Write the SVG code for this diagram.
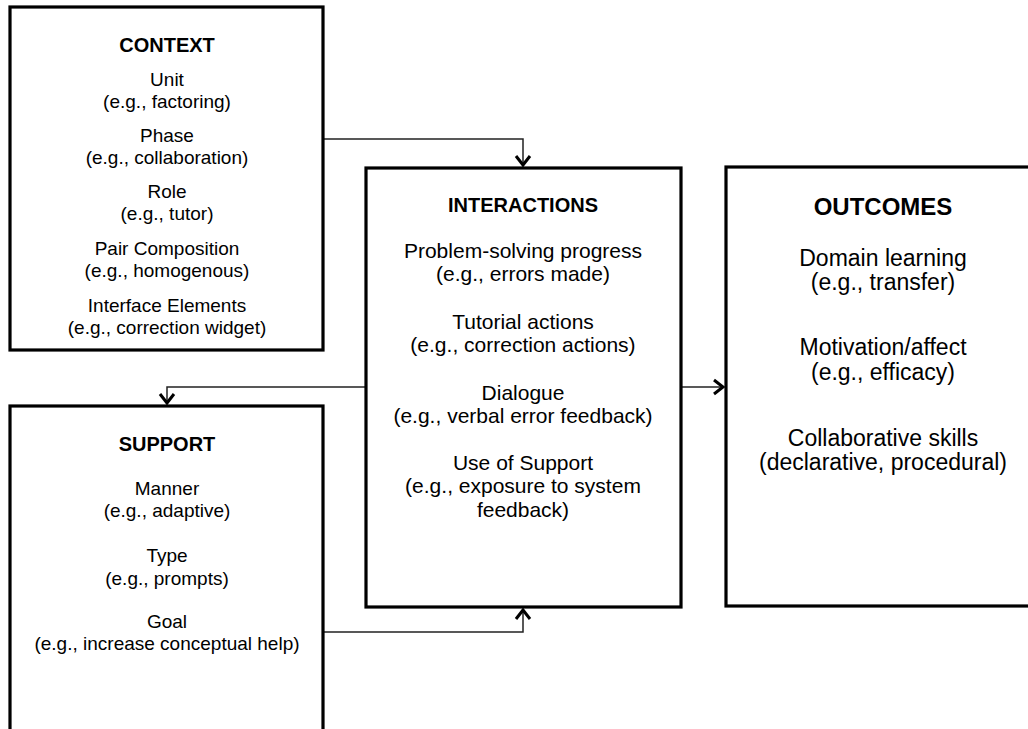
<svg xmlns="http://www.w3.org/2000/svg" width="1028" height="729" viewBox="0 0 1028 729">
  <style>
    .box { fill: #ffffff; stroke: #000000; stroke-width: 3.2; }
    .conn { fill: none; stroke: #222222; stroke-width: 1.5; }
    text { font-family: "Liberation Sans", Arial, sans-serif; fill: #000000; text-anchor: middle; }
    .title { font-weight: bold; font-size: 20px; }
    .title-lg { font-weight: bold; font-size: 24px; }
    .item { font-size: 19px; }
    .item-md { font-size: 21px; }
    .item-lg { font-size: 23px; }
  </style>
  <defs>
    <marker id="arrow" viewBox="-2 -2 16 18" refX="10" refY="7" markerWidth="16" markerHeight="18" markerUnits="userSpaceOnUse" orient="auto" overflow="visible">
      <path d="M0,0 L9,7 L0,14" fill="none" stroke="#000000" stroke-width="3" stroke-linejoin="miter"/>
    </marker>
  </defs>
  <rect width="1028" height="729" fill="#ffffff"/>

  <!-- connectors -->
  <g id="connectors">
    <path class="conn" d="M323,139 H523 V166" marker-end="url(#arrow)"/>
    <path class="conn" d="M366,387 H167 V404" marker-end="url(#arrow)"/>
    <path class="conn" d="M323,632 H523 V609" marker-end="url(#arrow)"/>
    <path class="conn" d="M681,387 H724" marker-end="url(#arrow)"/>
  </g>

  <!-- context box -->
  <g id="context">
    <rect class="box" x="10" y="7" width="313" height="343"/>
    <text class="title" x="167" y="52">CONTEXT</text>
    <text class="item" x="167" y="86">Unit</text>
    <text class="item" x="167" y="108">(e.g., factoring)</text>
    <text class="item" x="167" y="142">Phase</text>
    <text class="item" x="167" y="164">(e.g., collaboration)</text>
    <text class="item" x="167" y="198">Role</text>
    <text class="item" x="167" y="220">(e.g., tutor)</text>
    <text class="item" x="167" y="255">Pair Composition</text>
    <text class="item" x="167" y="277">(e.g., homogenous)</text>
    <text class="item" x="167" y="312">Interface Elements</text>
    <text class="item" x="167" y="334">(e.g., correction widget)</text>
  </g>

  <!-- interactions box -->
  <g id="interactions">
    <rect class="box" x="366" y="168" width="315" height="439"/>
    <text class="title" x="523" y="212">INTERACTIONS</text>
    <text class="item-md" x="523" y="258">Problem-solving progress</text>
    <text class="item-md" x="523" y="281">(e.g., errors made)</text>
    <text class="item-md" x="523" y="329">Tutorial actions</text>
    <text class="item-md" x="523" y="352">(e.g., correction actions)</text>
    <text class="item-md" x="523" y="400">Dialogue</text>
    <text class="item-md" x="523" y="423">(e.g., verbal error feedback)</text>
    <text class="item-md" x="523" y="470">Use of Support</text>
    <text class="item-md" x="523" y="493">(e.g., exposure to system</text>
    <text class="item-md" x="523" y="517">feedback)</text>
  </g>

  <!-- outcomes box (runs off the right edge) -->
  <g id="outcomes">
    <rect class="box" x="726" y="167" width="330" height="439"/>
    <text class="title-lg" x="883" y="215">OUTCOMES</text>
    <text class="item-lg" x="883" y="266">Domain learning</text>
    <text class="item-lg" x="883" y="290">(e.g., transfer)</text>
    <text class="item-lg" x="883" y="355">Motivation/affect</text>
    <text class="item-lg" x="883" y="380">(e.g., efficacy)</text>
    <text class="item-lg" x="883" y="446">Collaborative skills</text>
    <text class="item-lg" x="883" y="470">(declarative, procedural)</text>
  </g>

  <!-- support box (runs off the bottom edge) -->
  <g id="support">
    <rect class="box" x="10" y="406" width="313" height="340"/>
    <text class="title" x="167" y="451">SUPPORT</text>
    <text class="item" x="167" y="495">Manner</text>
    <text class="item" x="167" y="517">(e.g., adaptive)</text>
    <text class="item" x="167" y="562">Type</text>
    <text class="item" x="167" y="585">(e.g., prompts)</text>
    <text class="item" x="167" y="628">Goal</text>
    <text class="item" x="167" y="650">(e.g., increase conceptual help)</text>
  </g>
</svg>
